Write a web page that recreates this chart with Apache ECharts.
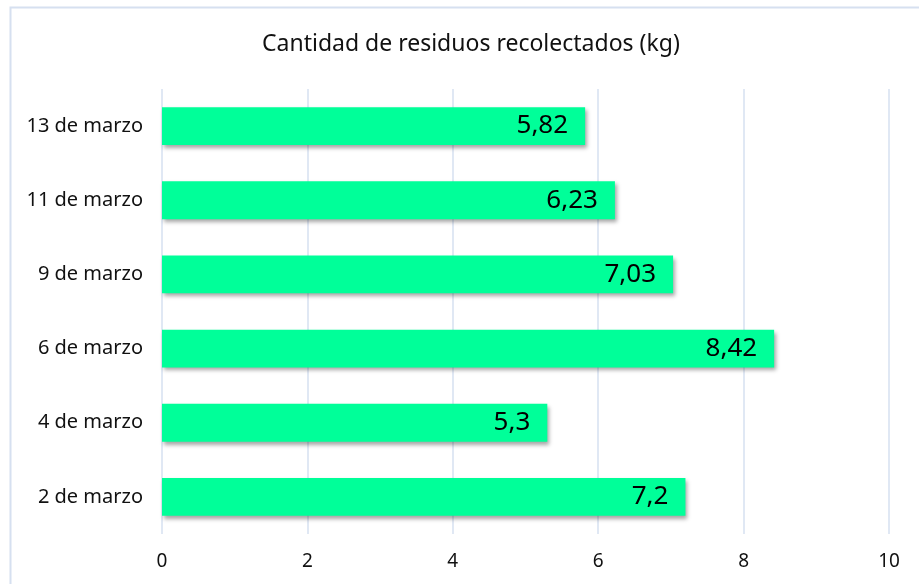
<!DOCTYPE html>
<html>
<head>
<meta charset="utf-8">
<script src="https://cdn.jsdelivr.net/npm/echarts@6/dist/echarts.min.js"></script>
<style>html,body{margin:0;padding:0;background:#fff}#c{width:919px;height:584px}</style>
</head>
<body>
<div id="c"></div>
<script>
var titleText = 'Cantidad de residuos recolectados (kg)';
var categories = ['2 de marzo', '4 de marzo', '6 de marzo', '9 de marzo', '11 de marzo', '13 de marzo'];
var values = [7.2, 5.3, 8.42, 7.03, 6.23, 5.82];
var xMin = 0, xMax = 10, xInterval = 2;

var chart = echarts.init(document.getElementById('c'), null, {renderer: 'canvas'});
var font = '"Noto Sans", sans-serif';
chart.setOption({
  animation: false,
  backgroundColor: '#fff',
  graphic: [{
    type: 'rect', left: 8, top: 5, z: -1,
    shape: {width: 940, height: 620},
    style: {fill: 'none', stroke: '#D6E0F0', lineWidth: 2}
  }],
  title: {
    text: titleText, left: 257, top: 28,
    textStyle: {fontFamily: font, fontSize: 23, fontWeight: 'normal', color: '#111'}
  },
  grid: {left: 162, right: 30, top: 89, bottom: 50, containLabel: false},
  xAxis: {
    type: 'value', min: xMin, max: xMax, interval: xInterval,
    axisLine: {show: false}, axisTick: {show: false},
    axisLabel: {fontFamily: font, fontSize: 19, color: '#111', margin: 18},
    splitLine: {lineStyle: {color: '#D6E0F0', width: 1.5}}
  },
  yAxis: {
    type: 'category', data: categories,
    axisLine: {show: false}, axisTick: {show: false},
    axisLabel: {fontFamily: font, fontSize: 20, color: '#111', margin: 19},
    splitLine: {show: false}
  },
  series: [{
    type: 'bar', data: values, barWidth: '51%',
    itemStyle: {color: '#00FF99', shadowColor: 'rgba(0,0,0,0.35)', shadowBlur: 4, shadowOffsetX: 2, shadowOffsetY: 3},
    label: {
      show: true, position: 'insideRight', distance: 17,
      fontFamily: font, fontSize: 26, color: '#000',
      formatter: function (p) { return String(p.value).replace('.', ','); }
    }
  }]
});
</script>
</body>
</html>
